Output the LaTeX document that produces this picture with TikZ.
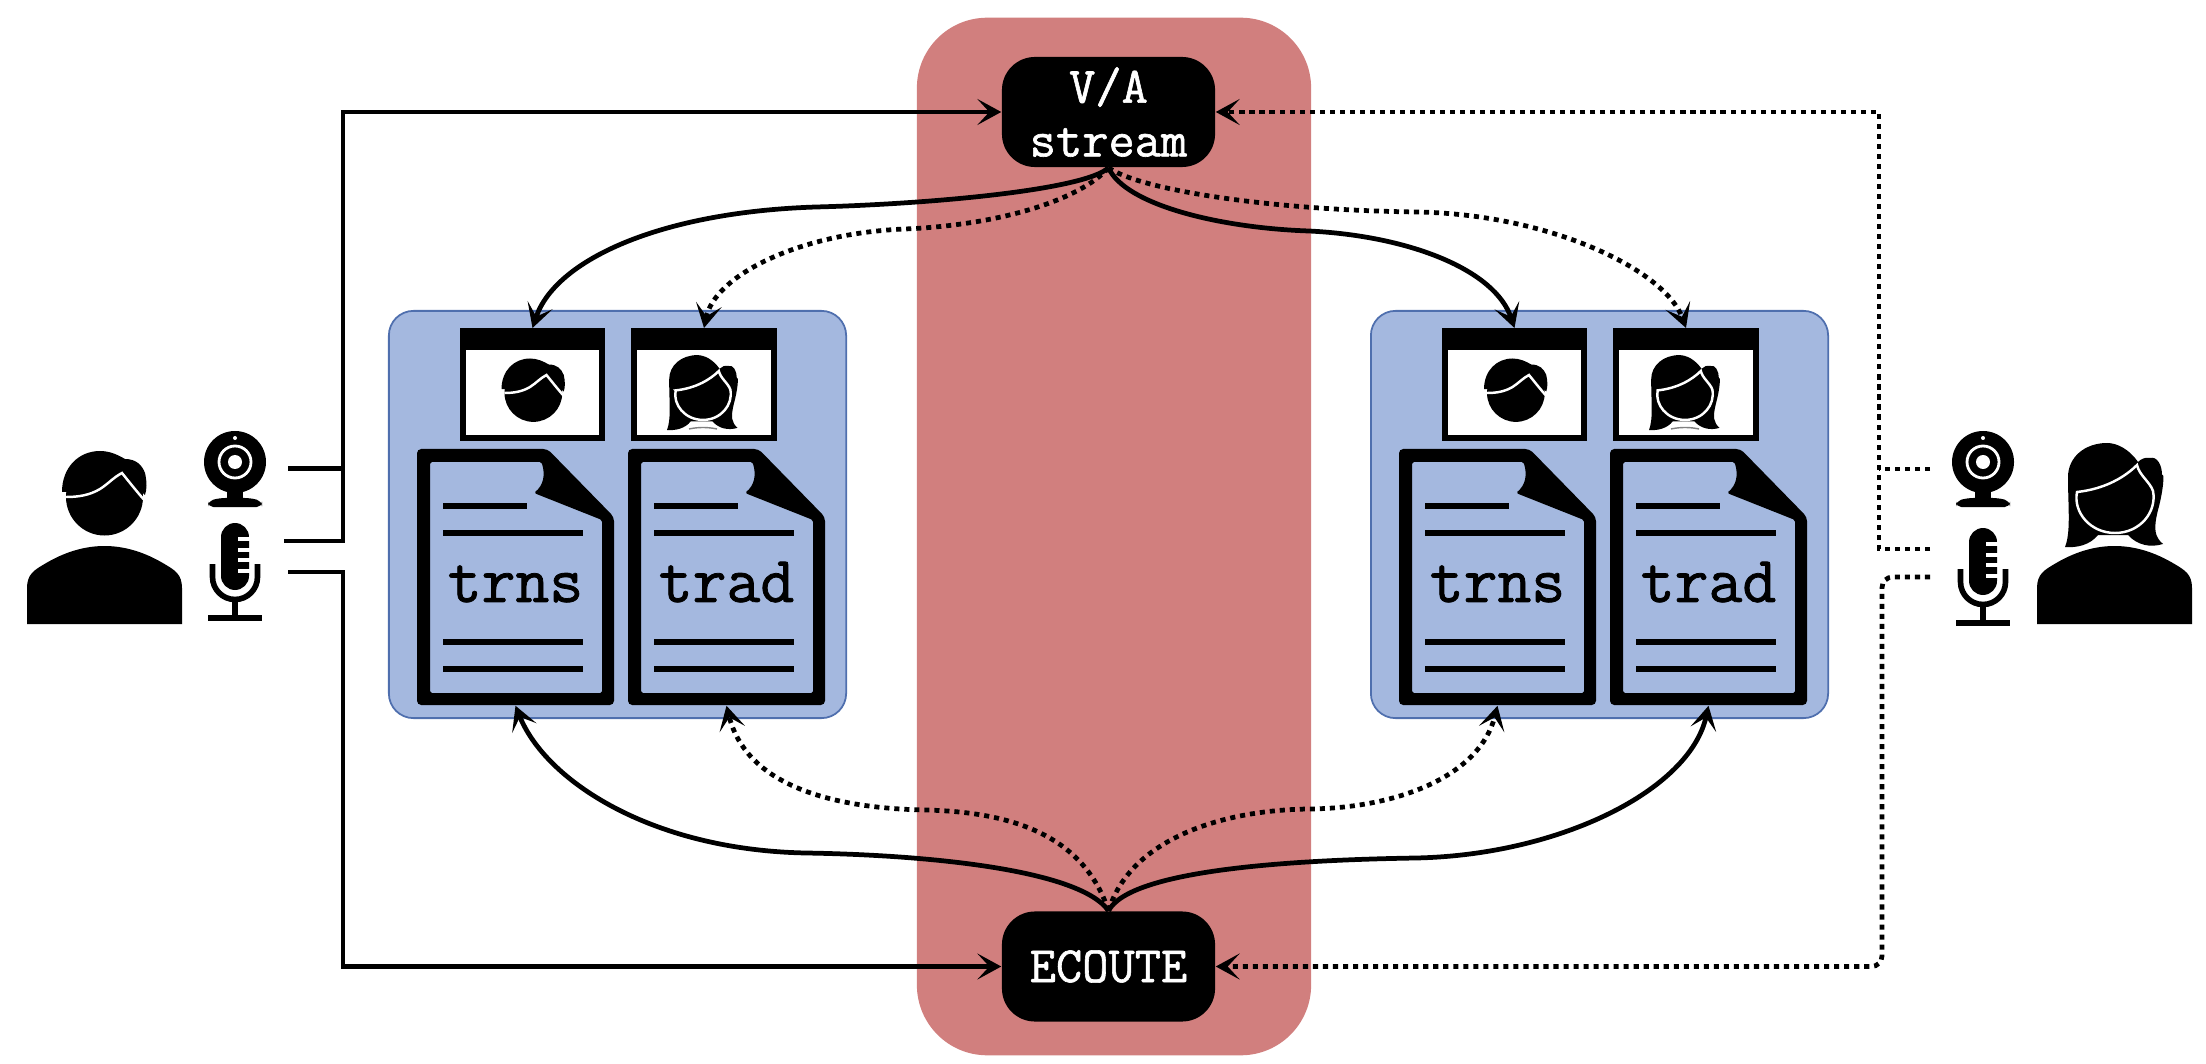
\documentclass[tikz,border=0pt]{standalone}
\usepackage{fontspec}
\newfontfamily\labelfont[FakeBold=1.2]{Latin Modern Mono}
\usetikzlibrary{arrows.meta}
\definecolor{panelred}{HTML}{D17F7E}
\definecolor{roomblue}{HTML}{A4B8DF}
\definecolor{roomedge}{HTML}{4F6FAE}
\tikzset{
	flow/.style={line width=1.35pt, -{Stealth[length=6.8pt, width=7.4pt, inset=3.4pt]}},
	link/.style={line width=1.35pt},
	dots/.style={dash pattern=on 1.45pt off 1.4pt},
	server/.style={fill=panelred, rounded corners=20pt, minimum width=3.94cm, minimum height=10.37cm},
	room/.style={fill=roomblue, draw=roomedge, line width=.5pt, rounded corners=7pt, minimum width=4.57cm, minimum height=4.07cm},
	service/.style={fill=black, text=white, rounded corners=9.4pt, minimum width=2.13cm, minimum height=1.10cm, inner sep=0pt, align=center, font=\fontsize{14.5}{15.3}\selectfont\labelfont},
	screen/.style={fill=white, draw=black, line width=1.7pt, minimum width=1.39cm, minimum height=1.07cm},
	page/.style={minimum width=1.97cm, minimum height=2.56cm, inner sep=0pt, text height=14.2pt, text depth=0pt, font=\fontsize{18.7}{20}\selectfont\labelfont},
	manhead/.pic={
		\fill (.5,0) circle (38.5);
		\fill (-42,-5) .. controls (-42,-30) and (-25,-46) .. (-4,-46) .. controls (6,-46) and (14,-42) .. (21,-38)
			.. controls (32,-38) and (38,-32) .. (41,-24) .. controls (43,-15) and (43,-8) .. (41,-2)
			-- (18,-24) .. controls (10,-20) and (4,-12) .. (-4,-9) .. controls (-14,-5) and (-30,-5) .. cycle;
		\draw[white, line width=.7pt] (-38,0) .. controls (-25,0) and (-14,-2) .. (-4,-8) .. controls (4,-13) and (10,-20) .. (18,-24) .. controls (26,-14) and (34,-4) .. (42,5);
	},
	womanhead/.pic={
		\fill (-8,-54) .. controls (-30,-54) and (-47,-40) .. (-47,-20) .. controls (-47,10) and (-44,35) .. (-50,50)
			.. controls (-38,51) and (-25,48) .. (-17,38) -- (13,38) .. controls (22,48) and (35,51) .. (48,47)
			.. controls (40,40) and (38,33) .. (43,13) .. controls (48,-5) and (50,-25) .. (47,-22) .. controls (47,-32) and (42,-41) .. (35,-39)
			.. controls (30,-40) and (26,-38) .. (23,-35) .. controls (14,-48) and (2,-54) .. cycle;
		\filldraw[draw=white, line width=.7pt] (-38,-5) .. controls (-10,-8) and (10,-20) .. (22,-32)
			.. controls (24,-22) and (35,-15) .. (38,-6) .. controls (42,15) and (25,36) .. (0,36)
			.. controls (-25,36) and (-42,15) .. cycle;
	},
	torso/.pic={
		\fill (-77.5,0) -- (-77.5,-36) .. controls (-77.5,-50) and (-70,-54) .. (-60,-60) .. controls (-40,-72) and (-20,-78) .. (0,-78)
			.. controls (20,-78) and (40,-72) .. (60,-60) .. controls (70,-54) and (77.5,-50) .. (77.5,-36) -- (77.5,0) -- cycle;
	},
	webcam/.pic={
		\fill (0,0) circle (31);
		\fill (-8,25) rectangle (8,40);
		\fill[rounded corners=1.5pt] (-27,45) -- (-27,39) -- (-15,36) -- (15,36) -- (27,39) -- (27,45) -- cycle;
		\draw[white, line width=.8pt] (0,0) circle (16);
		\fill[white] (0,0) circle (7);
		\fill[white] (0,-24) circle (2);
	},
	micro/.pic={
		\fill[rounded corners=4pt] (-14,-49) rectangle (14,18);
		\foreach \y in {-33,-22,-12,-1}
			\fill[white] (3,\y-1.6) rectangle (15,\y+1.6);
		\draw[line width=1.6pt] (-22.5,-8) -- (-22.5,5) arc[start angle=180, end angle=0, radius=22.5] -- (22.5,-8);
		\fill (-3,27) rectangle (3,44);
		\fill (-27,43) rectangle (27,49);
	},
	docpage/.pic={
		\fill[even odd rule] [rounded corners=1.2pt] (-98.5,-128) -- (32,-128) -- (98.5,-60) -- (98.5,128) -- (-98.5,128) -- cycle
			[rounded corners=.5pt] (-85.5,-115) -- (26,-115) .. controls (30,-102) and (28,-92) .. (18.5,-84) -- (86.5,-57) -- (86.5,116) -- (-85.5,116) -- cycle;
		\foreach \y/\x in {-71/11.5, -44/67.5, 65/67.5, 92/67.5}
			\fill (-72.5,\y-3) rectangle (\x,\y+3);
	},
}
\begin{document}
\begin{tikzpicture}[x=.01cm, y=-.01cm]
	\useasboundingbox (0,0) rectangle (2206,1064);

	\node[server] (hub) at (1114,536.5) {};
	\node[room] (roomA) at (617.5,514.5) {};
	\node[room] (roomB) at (1599.5,514.5) {};
	\node[service] (stream) at (1108.5,112) {V/A\\stream};
	\node[service] (ecoute) at (1108.5,966.5) {ECOUTE};

	% video windows
	\node[screen] (winAm) at (532.5,384.5) {};
	\node[screen] (winAw) at (704,384.5) {};
	\node[screen] (winBm) at (1514.5,384.5) {};
	\node[screen] (winBw) at (1686,384.5) {};
	\foreach \w in {winAm, winAw, winBm, winBw}
		\fill (\w.north west) rectangle ([yshift=-6.3pt] \w.north east);
	\pic[scale=.75] at (533,393) {manhead};
	\pic[scale=.72] at (703,394) {womanhead};
	\pic[scale=.75] at (1515.5,393) {manhead};
	\pic[scale=.72] at (1685,394) {womanhead};
	\foreach \x in {703, 1685}
		\draw[gray, line width=.4pt] (\x-14,429) .. controls (\x-5,427) and (\x+5,427) .. (\x+14,429);

	% documents
	\node[page] (trnsA) at (515.5,577) {trns};
	\node[page] (tradA) at (726.5,577) {trad};
	\node[page] (trnsB) at (1497.5,577) {trns};
	\node[page] (tradB) at (1708.5,577) {trad};
	\foreach \d in {trnsA, tradA, trnsB, tradB}
		\pic at (\d) {docpage};

	% people and devices
	\pic at (104,497) {manhead};
	\pic at (104.5,624) {torso};
	\pic at (235,462) {webcam};
	\pic at (235,572) {micro};
	\pic at (2115,497) {womanhead};
	\pic at (2114.5,624) {torso};
	\pic at (1983,462) {webcam};
	\pic at (1983,577) {micro};

	\coordinate (camL) at (288,468.5);
	\coordinate (micLa) at (284,541);
	\coordinate (micLb) at (288,572);
	\coordinate (camR) at (1930,469);
	\coordinate (micRa) at (1930,549);
	\coordinate (micRb) at (1930,577);

	% wiring on the left
	\draw[flow] (micLa) -- (343,541) -- (343,112) -- (stream.west);
	\draw[link] (camL) -- (343,468.5);
	\draw[flow] (micLb) -- (343,572) -- (343,966.5) -- (ecoute.west);

	% wiring on the right
	\draw[flow, dots] (micRa) -- (1879,549) -- (1879,112) -- (stream.east);
	\draw[link, dots] (camR) -- (1879,469);
	\draw[flow, dots, rounded corners=3pt] (micRb) -- (1882,577) -- (1882,966.5) -- (ecoute.east);

	% curves from the stream
	\draw[flow] (stream.south) .. controls (1085,190) and (930,204) .. (816,207) .. controls (660,212) and (555,260) .. (winAm.north);
	\draw[flow, dots] (stream.south) .. controls (1080,200) and (1000,225) .. (905,229) .. controls (800,233) and (715,275) .. (winAw.north);
	\draw[flow] (stream.south) .. controls (1125,205) and (1220,228) .. (1309,231) .. controls (1410,236) and (1495,270) .. (winBm.north);
	\draw[flow, dots] (stream.south) .. controls (1140,190) and (1270,210) .. (1416,212) .. controls (1550,214) and (1665,270) .. (winBw.north);

	% curves from ECOUTE
	\draw[flow] (ecoute.north) .. controls (1080,870) and (930,855) .. (806,853) .. controls (650,850) and (545,780) .. (trnsA.south);
	\draw[flow, dots] (ecoute.north) .. controls (1085,840) and (1020,812) .. (925,810) .. controls (820,808) and (745,780) .. (tradA.south);
	\draw[flow] (ecoute.north) .. controls (1130,870) and (1290,860) .. (1416,858) .. controls (1560,855) and (1690,790) .. (tradB.south);
	\draw[flow, dots] (ecoute.north) .. controls (1130,840) and (1220,810) .. (1309,809) .. controls (1400,808) and (1480,775) .. (trnsB.south);
\end{tikzpicture}
\end{document}
